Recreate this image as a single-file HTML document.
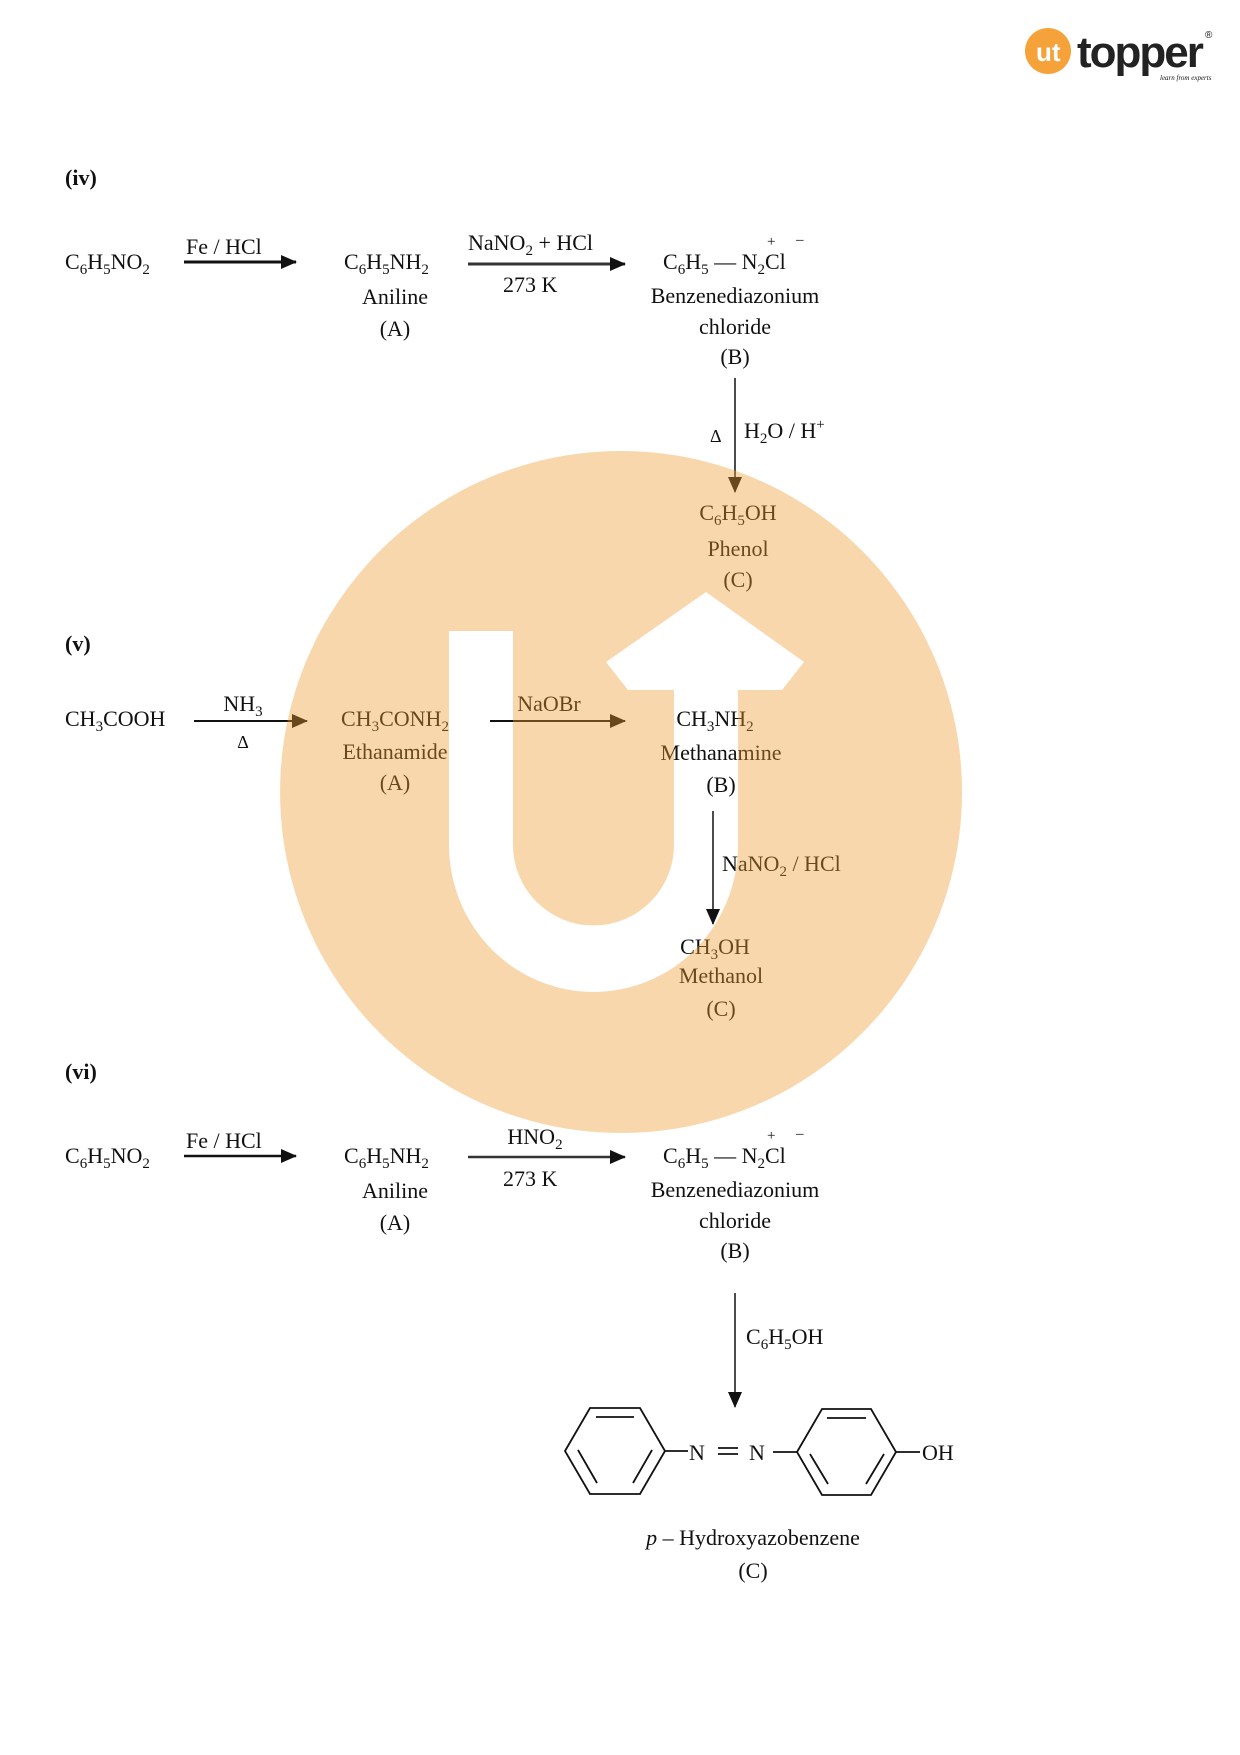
<!DOCTYPE html>
<html><head><meta charset="utf-8"><style>
html,body{margin:0;padding:0;background:#fff}
svg{display:block}
text{font-family:"Liberation Serif",serif;font-size:22px;fill:#111}
.b{font-weight:bold}
.s{font-size:15px}
</style></head><body>
<svg width="1240" height="1755" viewBox="0 0 1240 1755" xmlns="http://www.w3.org/2000/svg">
<defs>
<marker id="av" markerWidth="16" markerHeight="14" refX="15" refY="7" orient="auto" markerUnits="userSpaceOnUse">
<path d="M0,0 L16,7 L0,14 Z" fill="#111"/></marker>
<marker id="ar" markerWidth="16" markerHeight="14" refX="15" refY="7" orient="auto" markerUnits="userSpaceOnUse">
<path d="M0,0 L16,7 L0,14 Z" fill="#111"/></marker>
</defs>

<!-- logo -->
<circle cx="1048" cy="51" r="23" fill="#f5a23a"/>
<text x="1036" y="61" style="font-family:'Liberation Sans',sans-serif;font-size:26px;fill:#fff;font-weight:bold">ut</text>
<text x="1077" y="67" style="font-family:'Liberation Sans',sans-serif;font-size:44px;font-weight:bold;letter-spacing:-2px;fill:#222">topper</text>
<text x="1205" y="38" style="font-family:'Liberation Sans',sans-serif;font-size:10px">®</text>
<text x="1160" y="80" style="font-size:7px;font-style:italic">learn from experts</text>

<!-- (iv) -->
<text class="b" x="65" y="185">(iv)</text>
<text x="65" y="269">C<tspan class="s" dy="5">6</tspan><tspan dy="-5">H</tspan><tspan class="s" dy="5">5</tspan><tspan dy="-5">NO</tspan><tspan class="s" dy="5">2</tspan></text>
<text x="186" y="254">Fe / HCl</text>
<line x1="184" y1="262" x2="296" y2="262" stroke="#111" stroke-width="3" marker-end="url(#ar)"/>
<text x="344" y="269">C<tspan class="s" dy="5">6</tspan><tspan dy="-5">H</tspan><tspan class="s" dy="5">5</tspan><tspan dy="-5">NH</tspan><tspan class="s" dy="5">2</tspan></text>
<text x="395" y="304" text-anchor="middle">Aniline</text>
<text x="395" y="336" text-anchor="middle">(A)</text>
<text x="468" y="250">NaNO<tspan class="s" dy="5">2</tspan><tspan dy="-5"> + HCl</tspan></text>
<line x1="468" y1="264" x2="625" y2="264" stroke="#333" stroke-width="3" marker-end="url(#ar)"/>
<text x="503" y="292">273 K</text>
<text x="663" y="269">C<tspan class="s" dy="5">6</tspan><tspan dy="-5">H</tspan><tspan class="s" dy="5">5</tspan><tspan dy="-5"> — N</tspan><tspan class="s" dy="5">2</tspan><tspan dy="-5">Cl</tspan></text>
<text x="767" y="246" class="s">+</text><text x="796" y="244" class="s">–</text>
<text x="735" y="303" text-anchor="middle">Benzenediazonium</text>
<text x="735" y="334" text-anchor="middle">chloride</text>
<text x="735" y="364" text-anchor="middle">(B)</text>
<line x1="735" y1="378" x2="735" y2="492" stroke="#111" stroke-width="1.5" marker-end="url(#av)"/>
<text x="710" y="442" style="font-size:18px">Δ</text>
<text x="744" y="438">H<tspan class="s" dy="5">2</tspan><tspan dy="-5">O / H</tspan><tspan class="s" dy="-9">+</tspan></text>
<text x="738" y="520" text-anchor="middle">C<tspan class="s" dy="5">6</tspan><tspan dy="-5">H</tspan><tspan class="s" dy="5">5</tspan><tspan dy="-5">OH</tspan></text>
<text x="738" y="556" text-anchor="middle">Phenol</text>
<text x="738" y="587" text-anchor="middle">(C)</text>

<!-- (v) -->
<text class="b" x="65" y="651">(v)</text>
<text x="65" y="726">CH<tspan class="s" dy="5">3</tspan><tspan dy="-5">COOH</tspan></text>
<text x="243" y="711" text-anchor="middle">NH<tspan class="s" dy="5">3</tspan></text>
<line x1="194" y1="721" x2="307" y2="721" stroke="#111" stroke-width="2" marker-end="url(#ar)"/>
<text x="243" y="748" text-anchor="middle" style="font-size:18px">Δ</text>
<text x="395" y="726" text-anchor="middle">CH<tspan class="s" dy="5">3</tspan><tspan dy="-5">CONH</tspan><tspan class="s" dy="5">2</tspan></text>
<text x="395" y="759" text-anchor="middle">Ethanamide</text>
<text x="395" y="790" text-anchor="middle">(A)</text>
<text x="549" y="711" text-anchor="middle">NaOBr</text>
<line x1="490" y1="721" x2="625" y2="721" stroke="#111" stroke-width="2" marker-end="url(#ar)"/>
<text x="715" y="726" text-anchor="middle">CH<tspan class="s" dy="5">3</tspan><tspan dy="-5">NH</tspan><tspan class="s" dy="5">2</tspan></text>
<text x="721" y="760" text-anchor="middle">Methanamine</text>
<text x="721" y="792" text-anchor="middle">(B)</text>
<line x1="713" y1="811" x2="713" y2="924" stroke="#111" stroke-width="1.5" marker-end="url(#av)"/>
<text x="722" y="871">NaNO<tspan class="s" dy="5">2</tspan><tspan dy="-5"> / HCl</tspan></text>
<text x="715" y="954" text-anchor="middle">CH<tspan class="s" dy="5">3</tspan><tspan dy="-5">OH</tspan></text>
<text x="721" y="983" text-anchor="middle">Methanol</text>
<text x="721" y="1016" text-anchor="middle">(C)</text>

<!-- (vi) -->
<text class="b" x="65" y="1079">(vi)</text>
<text x="65" y="1163">C<tspan class="s" dy="5">6</tspan><tspan dy="-5">H</tspan><tspan class="s" dy="5">5</tspan><tspan dy="-5">NO</tspan><tspan class="s" dy="5">2</tspan></text>
<text x="186" y="1148">Fe / HCl</text>
<line x1="184" y1="1156" x2="296" y2="1156" stroke="#111" stroke-width="2.5" marker-end="url(#ar)"/>
<text x="344" y="1163">C<tspan class="s" dy="5">6</tspan><tspan dy="-5">H</tspan><tspan class="s" dy="5">5</tspan><tspan dy="-5">NH</tspan><tspan class="s" dy="5">2</tspan></text>
<text x="395" y="1198" text-anchor="middle">Aniline</text>
<text x="395" y="1230" text-anchor="middle">(A)</text>
<text x="535" y="1144" text-anchor="middle">HNO<tspan class="s" dy="5">2</tspan></text>
<line x1="468" y1="1157" x2="625" y2="1157" stroke="#333" stroke-width="2.5" marker-end="url(#ar)"/>
<text x="503" y="1186">273 K</text>
<text x="663" y="1163">C<tspan class="s" dy="5">6</tspan><tspan dy="-5">H</tspan><tspan class="s" dy="5">5</tspan><tspan dy="-5"> — N</tspan><tspan class="s" dy="5">2</tspan><tspan dy="-5">Cl</tspan></text>
<text x="767" y="1140" class="s">+</text><text x="796" y="1138" class="s">–</text>
<text x="735" y="1197" text-anchor="middle">Benzenediazonium</text>
<text x="735" y="1228" text-anchor="middle">chloride</text>
<text x="735" y="1258" text-anchor="middle">(B)</text>
<line x1="735" y1="1293" x2="735" y2="1407" stroke="#111" stroke-width="1.5" marker-end="url(#av)"/>
<text x="746" y="1344">C<tspan class="s" dy="5">6</tspan><tspan dy="-5">H</tspan><tspan class="s" dy="5">5</tspan><tspan dy="-5">OH</tspan></text>

<!-- rings -->
<g stroke="#111" stroke-width="1.8" fill="none">
<polygon points="565,1451 590,1408 640,1408 665,1451 640,1494 590,1494"/>
<line x1="596" y1="1417" x2="634" y2="1417"/>
<line x1="578" y1="1450" x2="597" y2="1483"/>
<line x1="652" y1="1450" x2="633" y2="1483"/>
<line x1="665" y1="1451" x2="688" y2="1451"/>
<line x1="718" y1="1448" x2="738" y2="1448"/>
<line x1="718" y1="1454" x2="738" y2="1454"/>
<line x1="773" y1="1452" x2="797" y2="1452"/>
<polygon points="797,1452 822,1409 871,1409 896,1452 871,1495 822,1495"/>
<line x1="827" y1="1418" x2="866" y2="1418"/>
<line x1="810" y1="1454" x2="828" y2="1484"/>
<line x1="884" y1="1454" x2="866" y2="1484"/>
<line x1="896" y1="1452" x2="920" y2="1452"/>
</g>
<text x="689" y="1460">N</text>
<text x="749" y="1460">N</text>
<text x="922" y="1460">OH</text>
<text x="753" y="1545" text-anchor="middle"><tspan font-style="italic">p</tspan> – Hydroxyazobenzene</text>
<text x="753" y="1578" text-anchor="middle">(C)</text>

<!-- watermark overlay -->
<g opacity="0.4">
<path fill="#f09a30" fill-rule="evenodd" d="M621,451 A341,341 0 1,0 621.1,451 Z
M449,631 L513,631 L513,845 A80.5,80.5 0 0,0 674,845 L674,690 L628,690 L606,662 L706,592 L804,662 L782,690 L738,690 L738,845 A144.5,147 0 0,1 449,845 Z"/>
</g>
</svg>
</body></html>
